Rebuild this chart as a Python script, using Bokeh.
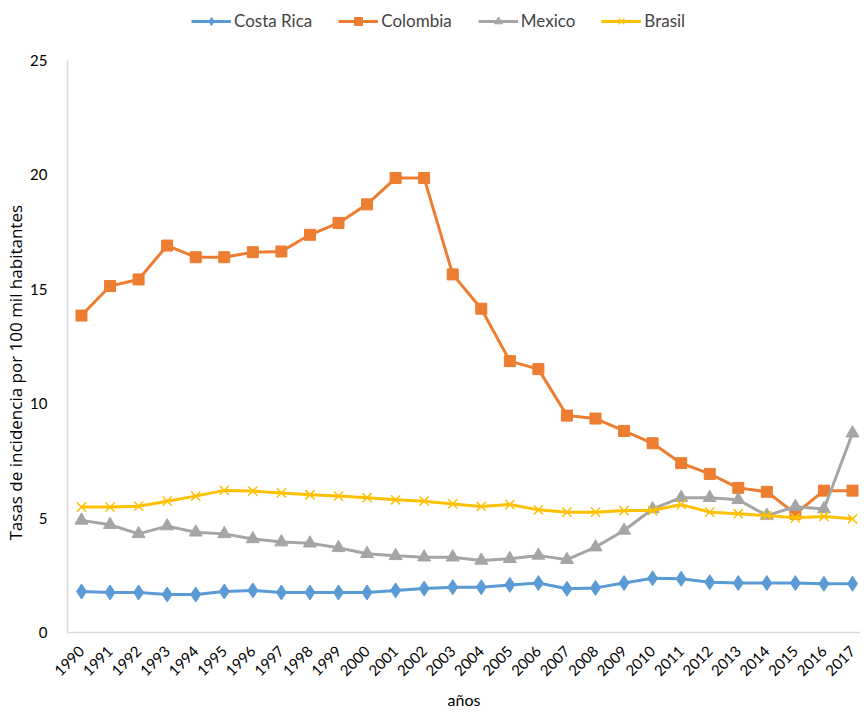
import math
from bokeh.plotting import figure
from bokeh.models import Legend, LegendItem, FixedTicker, Range1d, Title
from bokeh.embed import file_html
from bokeh.resources import INLINE

years = list(range(1990, 2018))
costa_rica = [1.79, 1.75, 1.75, 1.66, 1.66, 1.79, 1.84, 1.75, 1.75, 1.75, 1.75, 1.84, 1.92, 1.98,
              1.98, 2.08, 2.16, 1.91, 1.95, 2.16, 2.37, 2.35, 2.20, 2.16, 2.16, 2.16, 2.13, 2.13]
colombia = [13.85, 15.14, 15.43, 16.91, 16.40, 16.40, 16.62, 16.65, 17.38, 17.90, 18.71, 19.86, 19.86, 15.65,
            14.15, 11.86, 11.51, 9.48, 9.35, 8.81, 8.27, 7.40, 6.93, 6.32, 6.15, 5.19, 6.20, 6.20]
mexico = [4.90, 4.71, 4.31, 4.65, 4.38, 4.31, 4.09, 3.95, 3.90, 3.70, 3.44, 3.35, 3.29, 3.29,
          3.15, 3.22, 3.37, 3.18, 3.73, 4.46, 5.40, 5.89, 5.89, 5.80, 5.11, 5.50, 5.40, 8.71]
brasil = [5.48, 5.48, 5.52, 5.74, 5.96, 6.21, 6.18, 6.10, 6.02, 5.96, 5.89, 5.80, 5.74, 5.62,
          5.51, 5.59, 5.36, 5.26, 5.26, 5.33, 5.33, 5.59, 5.26, 5.19, 5.11, 5.01, 5.07, 4.97]
series_names = ["Costa Rica", "Colombia", "Mexico", "Brasil"]
y_ticks = [0, 5, 10, 15, 20, 25]

FONT = "Lato"
p = figure(width=860, height=716, output_backend="svg", toolbar_location=None,
           x_range=Range1d(1989.51, 2017.28), y_range=Range1d(0, 27.27),
           min_border_left=67, min_border_right=0, min_border_top=8, min_border_bottom=84)
p.outline_line_color = None
p.xgrid.grid_line_color = None
p.ygrid.grid_line_color = None

p.xaxis.ticker = FixedTicker(ticks=years)
p.yaxis.ticker = FixedTicker(ticks=y_ticks)
p.yaxis.bounds = (0, 25)
p.xaxis.major_label_orientation = math.pi / 4
for ax in (p.xaxis, p.yaxis):
    ax.axis_line_color = "#d9d9d9"
    ax.axis_line_width = 1.5
    ax.major_tick_line_color = None
    ax.minor_tick_line_color = None
    ax.major_label_text_font = FONT
    ax.major_label_text_font_size = "15px"
    ax.major_label_text_color = "#000000"
    ax.axis_label_text_font = FONT
    ax.axis_label_text_font_style = "normal"
    ax.axis_label_text_color = "#000000"
p.yaxis.major_label_standoff = 14
p.xaxis.major_label_standoff = 10
p.xaxis.axis_label = "años"
p.xaxis.axis_label_text_font_size = "16px"
p.xaxis.axis_label_standoff = 6

ytitle = Title(text="Tasas de incidencia por 100 mil habitantes", align="left", offset=92,
               text_font="Open Sans", text_font_size="17px", text_font_style="normal",
               text_color="#000000", standoff=2)
p.add_layout(ytitle, "left")

styles = [
    (costa_rica, "#5B9BD5", "diamond", 15),
    (colombia, "#ED7D31", "square", 11),
    (mexico, "#A5A5A5", "triangle", 13),
    (brasil, "#FFC000", "x", 13),
]
items = []
for name, (vals, col, mk, sz) in zip(series_names, styles):
    l = p.line(years, vals, line_color=col, line_width=3)
    if mk == "x":
        s = p.scatter(years, vals, marker=mk, size=sz, line_color=col, line_width=1.5)
    else:
        s = p.scatter(years, vals, marker=mk, size=sz, fill_color=col, line_color=col)
    items.append(LegendItem(label=name, renderers=[l, s]))

legend = Legend(items=items, orientation="horizontal", location=(124, 601),
                label_text_font=FONT, label_text_font_size="17px",
                label_standoff=3, glyph_width=40, spacing=26, padding=2,
                border_line_color=None, background_fill_alpha=0)
p.add_layout(legend, "center")

open("out.html", "w").write(file_html(p, INLINE))
